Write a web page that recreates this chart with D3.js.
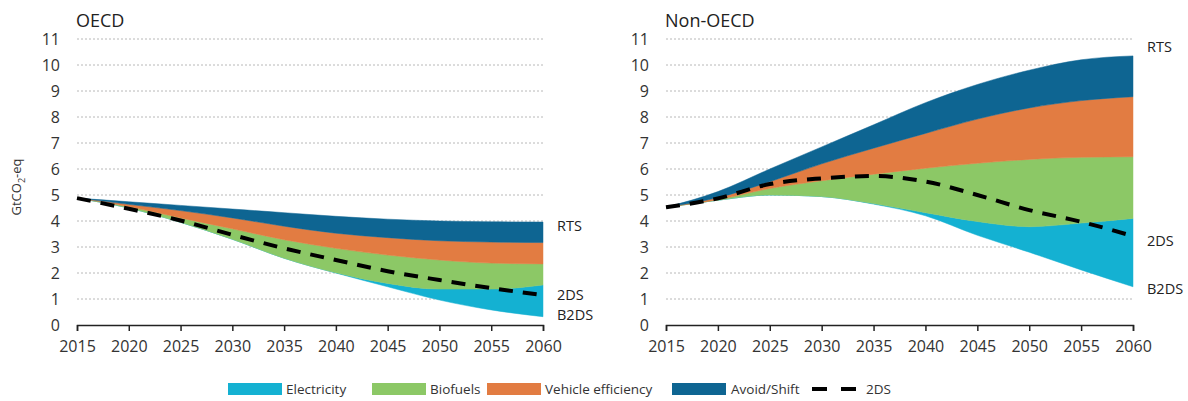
<!DOCTYPE html>
<html>
<head>
<meta charset="utf-8">
<script src="https://cdn.jsdelivr.net/npm/d3@7/dist/d3.min.js"></script>
<style>
  html, body { margin: 0; padding: 0; background: #fff; }
  svg { display: block; font-family: "Open Sans", "Noto Sans", sans-serif; }
</style>
</head>
<body>
<svg id="chart" width="1188" height="401"></svg>
<script>
// ---------------- DATA ----------------
const years = [2015, 2020, 2025, 2030, 2035, 2040, 2045, 2050, 2055, 2060];
const yTicks = [0, 1, 2, 3, 4, 5, 6, 7, 8, 9, 10, 11];
const xTicks = [2015, 2020, 2025, 2030, 2035, 2040, 2045, 2050, 2055, 2060];
const wedgeNames = ["Electricity", "Biofuels", "Vehicle efficiency", "Avoid/Shift"];
const panelTitles = ["OECD", "Non-OECD"];
const scenarioNames = ["RTS", "2DS", "B2DS"];

// OECD (GtCO2-eq)
const oecdB2DS        = [4.88, 4.50, 3.95, 3.30, 2.57, 2.00, 1.47, 0.96, 0.58, 0.32];
const oecdElectricity = [0, 0, 0, 0, 0, 0.01, 0.13, 0.42, 0.80, 1.22];
const oecdBiofuels    = [0, 0.05, 0.17, 0.40, 0.71, 0.94, 1.09, 1.12, 1.00, 0.81];
const oecdVehicleEff  = [0, 0.09, 0.28, 0.42, 0.52, 0.58, 0.67, 0.74, 0.81, 0.82];
const oecdAvoidShift  = [0, 0.10, 0.20, 0.34, 0.52, 0.65, 0.71, 0.76, 0.78, 0.79];
const oecd2DS         = [4.88, 4.47, 4.02, 3.47, 2.95, 2.50, 2.07, 1.73, 1.42, 1.15];
const oecdLabelValues = [3.8, 1.15, 0.38];   // label anchors: RTS, 2DS, B2DS

// Non-OECD (GtCO2-eq)
const nonB2DS        = [4.53, 4.80, 5.00, 4.94, 4.65, 4.20, 3.45, 2.80, 2.12, 1.47];
const nonElectricity = [0, 0, 0, 0, 0.02, 0.12, 0.53, 0.98, 1.80, 2.63];
const nonBiofuels    = [0, 0.02, 0.25, 0.61, 1.13, 1.71, 2.24, 2.59, 2.53, 2.37];
const nonVehicleEff  = [0, 0.08, 0.26, 0.65, 1.00, 1.34, 1.70, 1.98, 2.18, 2.31];
const nonAvoidShift  = [0, 0.23, 0.49, 0.65, 0.90, 1.18, 1.33, 1.45, 1.57, 1.57];
const non2DS         = [4.53, 4.87, 5.42, 5.64, 5.73, 5.52, 5.00, 4.42, 3.97, 3.42];
const nonLabelValues = [10.7, 3.23, 1.38];

// ---------------- STYLE / LAYOUT ----------------
const colors = {
  "Electricity": "#14b1d2",
  "Biofuels": "#8cc866",
  "Vehicle efficiency": "#e27c42",
  "Avoid/Shift": "#0e6592"
};
const panels = [
  { title: panelTitles[0], x0: 77, x1: 543, base: oecdB2DS,
    wedges: [oecdElectricity, oecdBiofuels, oecdVehicleEff, oecdAvoidShift],
    twoDS: oecd2DS, labels: oecdLabelValues },
  { title: panelTitles[1], x0: 666, x1: 1133, base: nonB2DS,
    wedges: [nonElectricity, nonBiofuels, nonVehicleEff, nonAvoidShift],
    twoDS: non2DS, labels: nonLabelValues }
];
const yTop = 39, yBottom = 325;

const svg = d3.select("#chart");

panels.forEach(p => {
  const x = d3.scaleLinear().domain([2015, 2060]).range([p.x0, p.x1]);
  const y = d3.scaleLinear().domain([0, 11]).range([yBottom, yTop]);
  const g = svg.append("g");

  // gridlines
  g.selectAll("line.grid").data(yTicks.filter(d => d > 0)).join("line")
    .attr("x1", p.x0).attr("x2", p.x1)
    .attr("y1", d => y(d)).attr("y2", d => y(d))
    .attr("stroke", "#b8b8b8").attr("stroke-width", 1)
    .attr("stroke-dasharray", "2,2");

  // stacked wedges
  const rows = years.map((yr, i) => {
    const r = { year: yr, base: p.base[i] };
    wedgeNames.forEach((k, j) => r[k] = p.wedges[j][i]);
    return r;
  });
  const stack = d3.stack().keys(wedgeNames)(rows);
  const area = d3.area()
    .x(d => x(d.data.year))
    .y0(d => y(d[0] + d.data.base))
    .y1(d => y(d[1] + d.data.base))
    .curve(d3.curveMonotoneX);
  g.selectAll("path.wedge").data(stack).join("path")
    .attr("d", area)
    .attr("fill", d => colors[d.key])
    .attr("stroke", d => colors[d.key])
    .attr("stroke-width", 0.5);

  // 2DS dashed line
  const line = d3.line().x((d, i) => x(years[i])).y(d => y(d)).curve(d3.curveMonotoneX);
  g.append("path").attr("d", line(p.twoDS))
    .attr("fill", "none").attr("stroke", "#000")
    .attr("stroke-width", 4).attr("stroke-dasharray", "14,10");

  // x axis
  const xAxis = d3.axisBottom(x).tickValues(xTicks).tickFormat(d3.format("d"))
    .tickSize(6).tickPadding(10);
  const ax = g.append("g").attr("transform", `translate(0,${yBottom})`).call(xAxis);
  ax.select(".domain").attr("stroke", "#222").attr("stroke-width", 1.5);
  ax.selectAll(".tick line").attr("stroke", "#222").attr("stroke-width", 1.5);
  ax.selectAll(".tick text").attr("font-size", 16).attr("fill", "#333")
    .attr("font-family", "'Open Sans', sans-serif");

  // y axis labels
  const yAxis = d3.axisLeft(y).tickValues(yTicks).tickSize(0).tickPadding(17);
  const ay = g.append("g").attr("transform", `translate(${p.x0},0)`).call(yAxis);
  ay.select(".domain").remove();
  ay.selectAll(".tick text").attr("font-size", 16).attr("fill", "#333")
    .attr("font-family", "'Open Sans', sans-serif");

  // title
  g.append("text").attr("x", p.x0 - 1).attr("y", 27)
    .attr("font-size", 18).attr("fill", "#222").text(p.title);

  // scenario labels
  scenarioNames.forEach((s, i) => {
    g.append("text").attr("x", p.x1 + 14).attr("y", y(p.labels[i]))
      .attr("dy", "0.35em").attr("font-size", 14.5).attr("fill", "#222").text(s);
  });
});

// y-axis title
const yt = svg.append("text")
  .attr("transform", "translate(21,187) rotate(-90)")
  .attr("text-anchor", "middle").attr("font-size", 13).attr("fill", "#333");
yt.append("tspan").text("GtCO");
yt.append("tspan").attr("font-size", 9).attr("dy", 4).text("2");
yt.append("tspan").attr("dy", -4).text("-eq");

// legend
const legendItems = [
  { name: "Electricity", sx: 228, tx: 286 },
  { name: "Biofuels", sx: 372, tx: 430 },
  { name: "Vehicle efficiency", sx: 487, tx: 545 },
  { name: "Avoid/Shift", sx: 672, tx: 731 }
];
const ly = 389;
const lg = svg.append("g");
lg.selectAll("rect").data(legendItems).join("rect")
  .attr("x", d => d.sx).attr("y", ly - 6).attr("width", 54).attr("height", 12)
  .attr("fill", d => colors[d.name]);
lg.selectAll("text").data(legendItems).join("text")
  .attr("x", d => d.tx).attr("y", ly).attr("dy", "0.35em")
  .attr("font-size", 13.5).attr("fill", "#333").text(d => d.name);
lg.append("line").attr("x1", 812).attr("x2", 856).attr("y1", ly).attr("y2", ly)
  .attr("stroke", "#000").attr("stroke-width", 4).attr("stroke-dasharray", "15,14");
lg.append("text").attr("x", 866).attr("y", ly).attr("dy", "0.35em")
  .attr("font-size", 13.5).attr("fill", "#333").text("2DS");
</script>
</body>
</html>
